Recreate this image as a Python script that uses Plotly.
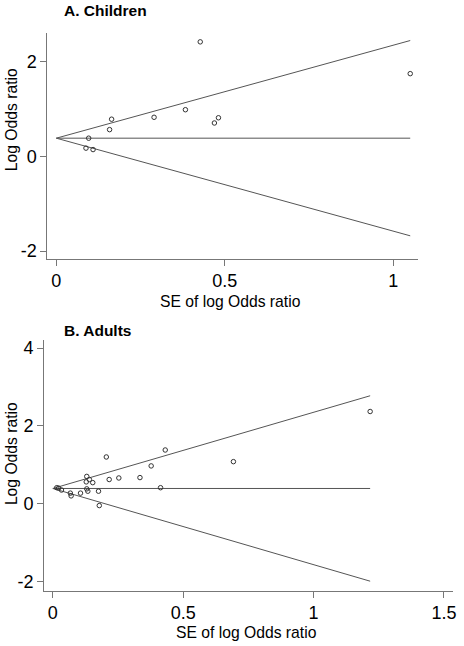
import plotly.graph_objects as go

# ---- data ----
children_se = [0.427, 1.050, 0.383, 0.290, 0.164, 0.158, 0.481, 0.469, 0.096, 0.088, 0.109]
children_lor = [2.41, 1.74, 0.98, 0.82, 0.78, 0.56, 0.81, 0.70, 0.38, 0.17, 0.14]
children_pooled = 0.38

adults_se = [1.217, 0.6925, 0.431, 0.377, 0.413, 0.334, 0.253, 0.216, 0.205, 0.175, 0.178,
             0.153, 0.140, 0.130, 0.128, 0.130, 0.134, 0.106, 0.067, 0.070, 0.033, 0.022, 0.015]
adults_lor = [2.37, 1.08, 1.38, 0.97, 0.41, 0.67, 0.66, 0.62, 1.20, 0.32, -0.05,
              0.54, 0.62, 0.70, 0.56, 0.38, 0.32, 0.27, 0.27, 0.20, 0.35, 0.40, 0.41]
adults_pooled = 0.39

children_xticks = [0, 0.5, 1]
children_xtext = ["0", "0.5", "1"]
children_yticks = [-2, 0, 2]
children_ytext = ["-2", "0", "2"]
adults_xticks = [0, 0.5, 1, 1.5]
adults_xtext = ["0", "0.5", "1", "1.5"]
adults_yticks = [-2, 0, 2, 4]
adults_ytext = ["-2", "0", "2", "4"]

W, H = 464, 646
FONT = "Liberation Sans, Arial, sans-serif"
LINE = "#555555"
AX = "#777777"

fig = go.Figure()


def add_panel(se, lor, pooled, xa, ya):
    smax = max(se)
    xs = [0, smax]
    for ys in ([pooled, pooled],
               [pooled, pooled + 1.96 * smax],
               [pooled, pooled - 1.96 * smax]):
        fig.add_trace(go.Scatter(x=xs, y=ys, mode="lines", xaxis=xa, yaxis=ya,
                                 line=dict(color=LINE, width=1), showlegend=False,
                                 hoverinfo="skip"))
    fig.add_trace(go.Scatter(x=se, y=lor, mode="markers", xaxis=xa, yaxis=ya,
                             marker=dict(symbol="circle-open", size=4.5,
                                         color="#333333", line=dict(width=1)),
                             showlegend=False))


add_panel(children_se, children_lor, children_pooled, "x", "y")
add_panel(adults_se, adults_lor, adults_pooled, "x2", "y2")


def px_x(p):
    return p / W


def px_y(p):
    return 1 - p / H


axis_common = dict(showgrid=False, zeroline=False, showline=True, linecolor=AX,
                   linewidth=1, ticks="outside", ticklen=6, tickcolor=AX,
                   tickwidth=1, tickfont=dict(family=FONT, size=18, color="black"),
                   fixedrange=True)

fig.update_layout(
    width=W, height=H,
    margin=dict(l=0, r=0, t=0, b=0),
    paper_bgcolor="white", plot_bgcolor="white",
    font=dict(family=FONT, color="black"),
    xaxis=dict(domain=[px_x(47.7), px_x(420.7)], range=[-0.0265, 1.073],
               tickmode="array", tickvals=children_xticks, ticktext=children_xtext,
               anchor="y", **axis_common),
    yaxis=dict(domain=[px_y(259.3), px_y(31.7)], range=[-2.16, 2.607],
               tickmode="array", tickvals=children_yticks, ticktext=children_ytext,
               anchor="x", **axis_common),
    xaxis2=dict(domain=[px_x(44.3), px_x(456)], range=[-0.034, 1.535],
                tickmode="array", tickvals=adults_xticks, ticktext=adults_xtext,
                anchor="y2", **axis_common),
    yaxis2=dict(domain=[px_y(593.3), px_y(340.7)], range=[-2.238, 4.22],
                tickmode="array", tickvals=adults_yticks, ticktext=adults_ytext,
                anchor="x2", **axis_common),
)

ann = [
    dict(text="<b>A. Children</b>", x=px_x(62.5), y=px_y(9.5), xanchor="left",
         yanchor="middle", font=dict(size=15.5)),
    dict(text="<b>B. Adults</b>", x=px_x(62.5), y=px_y(331.7), xanchor="left",
         yanchor="middle", font=dict(size=15.5)),
    dict(text="SE of log Odds ratio", x=px_x(232.5), y=px_y(302), xanchor="center",
         yanchor="middle", font=dict(size=15.7)),
    dict(text="SE of log Odds ratio", x=px_x(248.3), y=px_y(635), xanchor="center",
         yanchor="middle", font=dict(size=15.7)),
    dict(text="Log Odds ratio", x=px_x(11), y=px_y(119), xanchor="center",
         yanchor="middle", textangle=-90, font=dict(size=15.7)),
    dict(text="Log Odds ratio", x=px_x(11), y=px_y(455), xanchor="center",
         yanchor="middle", textangle=-90, font=dict(size=15.7)),
]
for a in ann:
    a.update(xref="paper", yref="paper", showarrow=False)
    a["font"] = dict(family=FONT, color="black", **a["font"])
fig.update_layout(annotations=ann)

fig.write_html(
    "out.html",
    config={"displayModeBar": False},
    post_script="document.body.style.margin='0';document.body.style.overflow='hidden';",
)
